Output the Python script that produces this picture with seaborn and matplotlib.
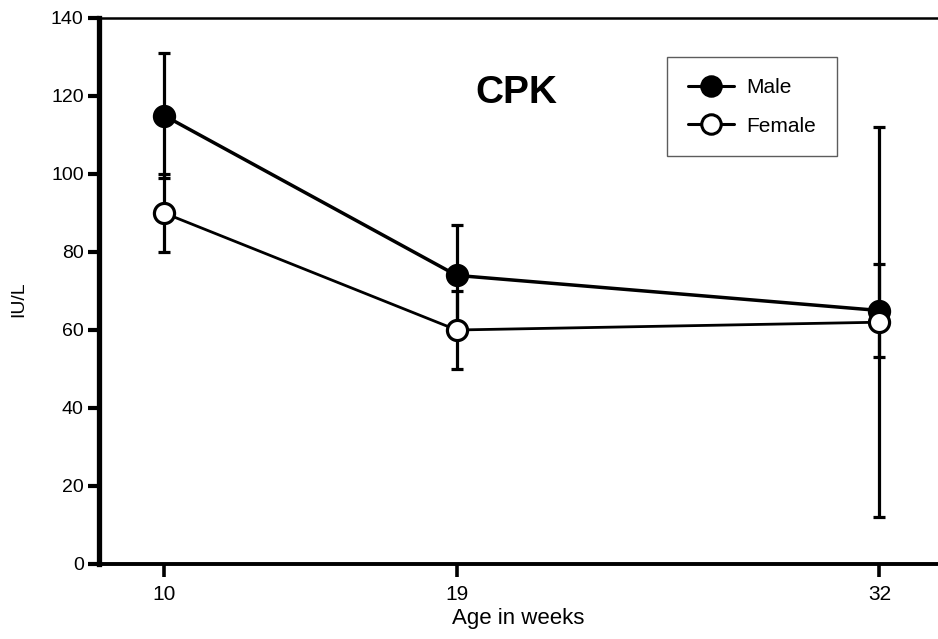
import matplotlib
matplotlib.use("Agg")
import matplotlib.pyplot as plt
from matplotlib.lines import Line2D
import pandas as pd
import seaborn as sns

# Serum CPK by age and sex (mean and SD)
ages = [10, 19, 32]
male_mean = [115, 74, 65]
male_sd = [16, 13, 12]
female_mean = [90, 60, 62]
female_sd = [10, 10, 50]
y_ticks = [0, 20, 40, 60, 80, 100, 120, 140]

df = pd.DataFrame({
    "Age": ages * 2,
    "IU/L": male_mean + female_mean,
    "SD": male_sd + female_sd,
    "Sex": ["Male"] * 3 + ["Female"] * 3,
})

sns.set_style("white")
plt.rcParams["font.family"] = ["Liberation Sans", "DejaVu Sans"]
plt.rcParams.update({
    "text.color": "black",
    "axes.labelcolor": "black",
    "xtick.color": "black",
    "ytick.color": "black",
})

fig = plt.figure(figsize=(9.38, 6.39), dpi=100)
ax = fig.add_axes([99 / 938, 75 / 639, 1 - 99 / 938, 546 / 639])

face = {"Male": "black", "Female": "white"}
lw = {"Male": 2.5, "Female": 2.0}
for i, sex in enumerate(["Male", "Female"]):
    sub = df[df["Sex"] == sex]
    ax.errorbar(sub["Age"], sub["IU/L"], yerr=sub["SD"], fmt="none",
                ecolor="black", elinewidth=2.3, capsize=4.5, capthick=2.3,
                zorder=2 + i * 2)
    sns.lineplot(data=sub, x="Age", y="IU/L", ax=ax, color="black",
                 linewidth=lw[sex], marker="o", markersize=14.5,
                 markerfacecolor=face[sex], markeredgecolor="black",
                 markeredgewidth=2.3, zorder=3 + i * 2, legend=False,
                 errorbar=None)

ax.set_xlim(8, 33.8)
ax.set_ylim(0, 140)
ax.set_xticks(ages)
ax.set_yticks(y_ticks)
ax.tick_params(axis="both", which="major", direction="out", bottom=True,
               left=True, top=False, right=False, colors="black")
ax.tick_params(axis="y", length=8, width=3, labelsize=14, pad=3)
ax.tick_params(axis="x", length=9, width=2.6, labelsize=15, pad=6)

for side, w in [("left", 3.8), ("bottom", 2.8), ("top", 1.8)]:
    ax.spines[side].set_linewidth(w)
    ax.spines[side].set_color("black")
ax.spines["right"].set_visible(False)

ax.set_xlabel("Age in weeks", fontsize=16, labelpad=3)
ax.set_ylabel("IU/L", fontsize=14)
ax.yaxis.set_label_coords(-0.086, 0.485)

ax.text((516 - 99) / 839, (639 - 93 - 75) / 546, "CPK", transform=ax.transAxes,
        fontsize=28, fontweight="bold", ha="center", va="center")

handles = [
    Line2D([], [], color="black", linewidth=2.2, marker="o", markersize=14,
           markerfacecolor="black", markeredgecolor="black", markeredgewidth=2.2),
    Line2D([], [], color="black", linewidth=2.2, marker="o", markersize=14,
           markerfacecolor="white", markeredgecolor="black", markeredgewidth=2.2),
]
leg = ax.legend(handles, ["Male", "Female"], loc="upper left",
                bbox_to_anchor=((667 - 99) / 839, (639 - 57 - 75) / 546),
                fontsize=15, frameon=True, fancybox=False, handlelength=2.2,
                handletextpad=0.6, borderpad=1.0, labelspacing=0.95,
                borderaxespad=0)
leg.get_frame().set_edgecolor("#333333")
leg.get_frame().set_linewidth(1.0)

fig.savefig("out.png", dpi=100)
